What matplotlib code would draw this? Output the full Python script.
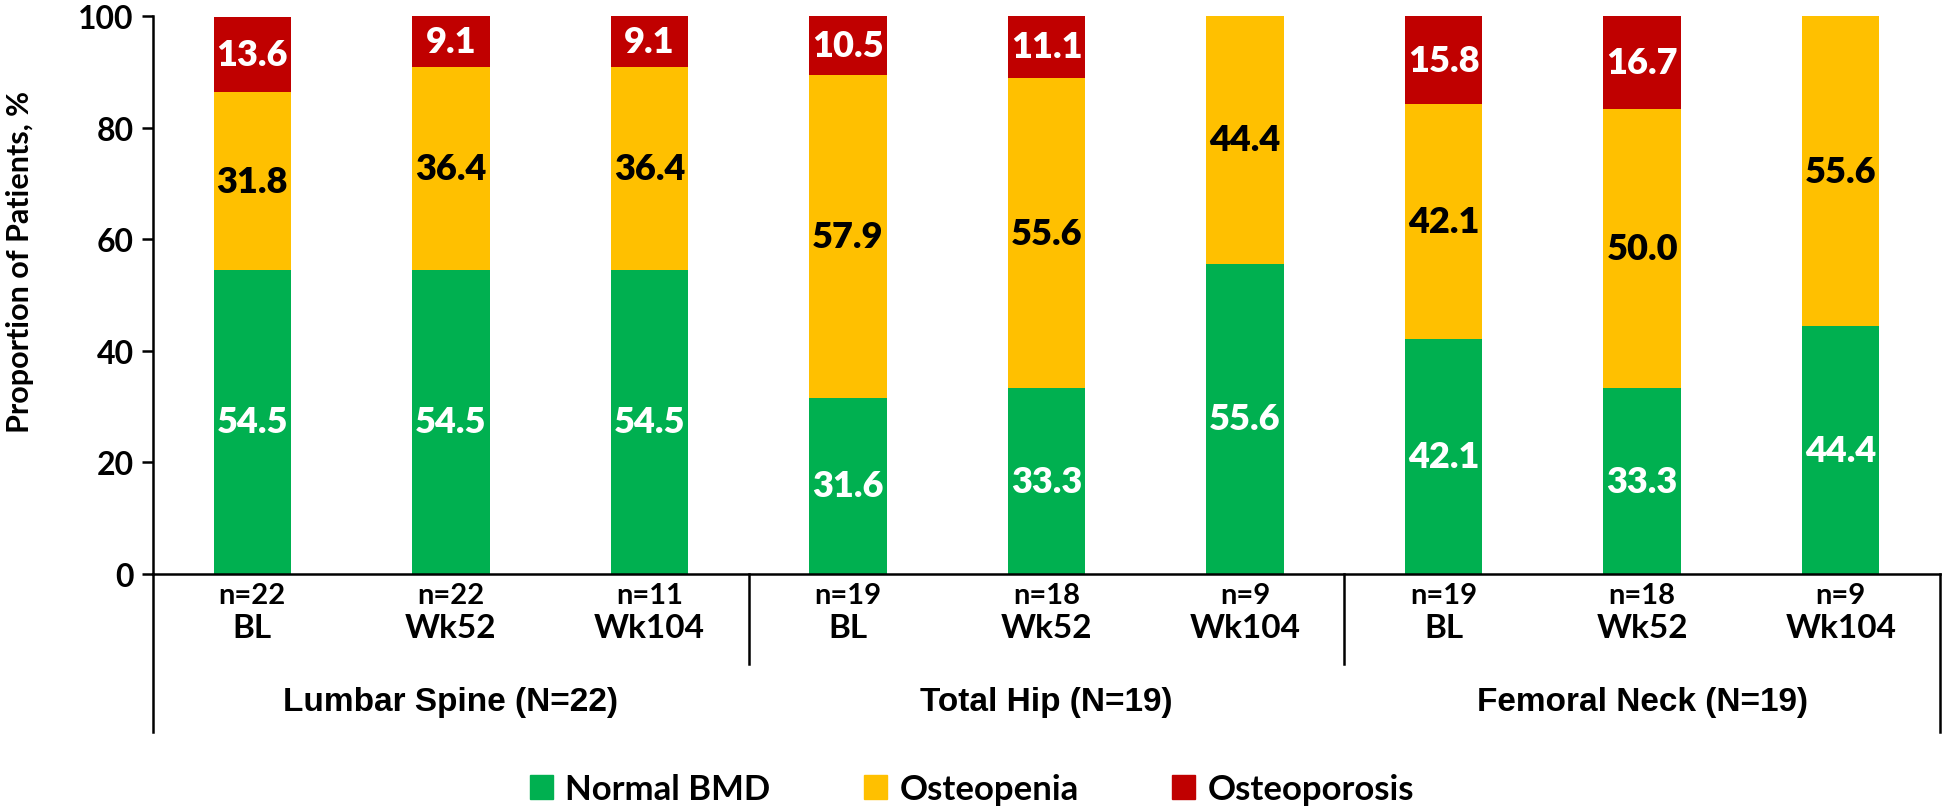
import matplotlib
matplotlib.use("Agg")
import matplotlib.pyplot as plt
import matplotlib.transforms as mtransforms
from matplotlib.patches import Patch
import numpy as np

# data
sites = ["Lumbar Spine (N=22)", "Total Hip (N=19)", "Femoral Neck (N=19)"]
visits = ["BL", "Wk52", "Wk104", "BL", "Wk52", "Wk104", "BL", "Wk52", "Wk104"]
n_labels = ["n=22", "n=22", "n=11", "n=19", "n=18", "n=9", "n=19", "n=18", "n=9"]
normal = [54.5, 54.5, 54.5, 31.6, 33.3, 55.6, 42.1, 33.3, 44.4]
osteopenia = [31.8, 36.4, 36.4, 57.9, 55.6, 44.4, 42.1, 50.0, 55.6]
osteoporosis = [13.6, 9.1, 9.1, 10.5, 11.1, 0.0, 15.8, 16.7, 0.0]
series_names = ["Normal BMD", "Osteopenia", "Osteoporosis"]

colors = ["#00B050", "#FFC000", "#C00000"]
text_colors = ["white", "black", "white"]

plt.rcParams["font.family"] = ["Lato", "DejaVu Sans"]
plt.rcParams["font.weight"] = "bold"
arial = ["Liberation Sans", "DejaVu Sans"]

W, H = 1944, 812
fig = plt.figure(figsize=(W / 100, H / 100), dpi=100)
ax = fig.add_axes([153 / W, 1 - 575 / H, (1940 - 153) / W, (575 - 17) / H])

def fy(py):
    return 1 - py / H

x = np.arange(len(visits))
bottom = np.zeros(len(x))
for vals, c, tc in zip([normal, osteopenia, osteoporosis], colors, text_colors):
    vals = np.array(vals)
    ax.bar(x, vals, bottom=bottom, width=0.39, color=c, edgecolor="none")
    for xi, v, b in zip(x, vals, bottom):
        if v > 0:
            ax.text(xi, b + v / 2, "%.1f" % v, ha="center", va="center",
                    color=tc, fontsize=26, fontweight="heavy")
    bottom += vals

ax.set_xlim(-0.5, 8.5)
ax.set_ylim(0, 100)
ax.set_yticks(range(0, 101, 20))
ax.tick_params(axis="y", labelsize=23, width=1.8, length=8, pad=6)
ax.set_xticks([])
for s in ["top", "right"]:
    ax.spines[s].set_visible(False)
ax.spines["left"].set_linewidth(1.8)
ax.spines["bottom"].set_linewidth(1.8)

fig.text(20 / W, fy(262), "Proportion of Patients, %", rotation=90,
         ha="center", va="center", fontsize=22, fontweight="bold")

# category labels under the axis
tr = mtransforms.blended_transform_factory(ax.transData, fig.transFigure)
for xi, nl, v in zip(x, n_labels, visits):
    ax.text(xi, fy(596), nl, transform=tr, ha="center", va="center", fontsize=21)
    ax.text(xi, fy(628), v, transform=tr, ha="center", va="center", fontsize=24)

for i, s in enumerate(sites):
    ax.text(3 * i + 1, fy(703), s, transform=tr, ha="center", va="center",
            fontsize=24, fontweight="bold", family=arial)

# bracket lines
for xv in [-0.5, 8.5]:
    ax.plot([xv, xv], [fy(575), fy(733)], transform=tr, color="black",
            lw=1.8, clip_on=False)
for xv in [2.5, 5.5]:
    ax.plot([xv, xv], [fy(575), fy(665)], transform=tr, color="black",
            lw=1.8, clip_on=False)

handles = [Patch(color=c, label=n) for c, n in zip(colors, series_names)]
fig.legend(handles=handles, loc="center", bbox_to_anchor=(0.5, fy(790)),
           ncol=3, frameon=False, fontsize=25, handlelength=0.66,
           handleheight=0.66, handletextpad=0.35, columnspacing=2.7,
           borderpad=0.1)

fig.savefig("out.png", dpi=100)
